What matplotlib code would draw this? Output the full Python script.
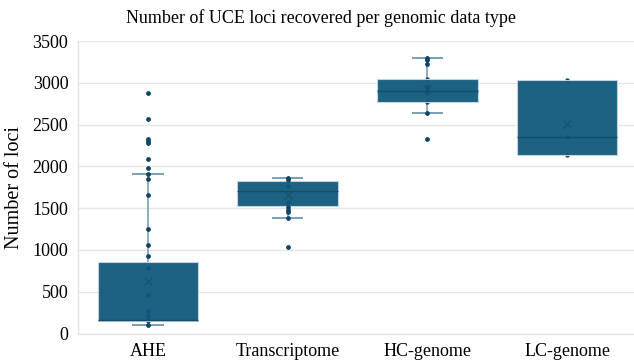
import matplotlib
matplotlib.use("Agg")
import matplotlib.pyplot as plt

categories = ["AHE", "Transcriptome", "HC-genome", "LC-genome"]

# box statistics
q1 = [144, 1528, 2770, 2131]
medians = [165, 1711, 2902, 2351]
q3 = [856, 1823, 3050, 3034]
whislo = [104, 1379, 2638, 2131]
whishi = [1907, 1859, 3298, 3034]
means = [624, 1663, 2922, 2502]

# individual samples
ahe = [2878, 2570, 2322, 2298, 2278, 2091, 1975, 1907, 1851, 1655, 1255,
       1064, 924, 784, 464, 272, 224, 184, 144, 104]
transcriptome = [1859, 1831, 1759, 1579, 1511, 1483, 1459, 1379, 1031]
hc_genome = [3298, 3274, 3222, 3050, 2962, 2930, 2880, 2770, 2638, 2331]
lc_genome = [3034, 2351, 2131]
points = [ahe, transcriptome, hc_genome, lc_genome]

yticks = [0, 500, 1000, 1500, 2000, 2500, 3000, 3500]

plt.rcParams["font.family"] = ["Liberation Serif", "DejaVu Serif"]

box_color = "#0f587a"
dot_color = "#0d4763"
whisker_color = "#7c9fb3"

fig = plt.figure(figsize=(6.34, 3.61), dpi=100)
ax = fig.add_axes([78 / 634, (361 - 333.5) / 361, 559 / 634, 292.5 / 361])

stats = []
for i, name in enumerate(categories):
    stats.append(dict(label=name, q1=q1[i], med=medians[i], q3=q3[i],
                      whislo=whislo[i], whishi=whishi[i], mean=means[i], fliers=[]))

bp = ax.bxp(stats, positions=range(len(categories)), widths=0.72, capwidths=0.21,
            patch_artist=True, showmeans=True, showfliers=False,
            boxprops=dict(facecolor=box_color, edgecolor="#c9d5dc", linewidth=0.8, alpha=0.94),
            medianprops=dict(color="#124f6c", linewidth=1.0),
            whiskerprops=dict(color=whisker_color, linewidth=1.2),
            capprops=dict(color=whisker_color, linewidth=1.4),
            meanprops=dict(marker="x", markeredgecolor="#174f69", markersize=6,
                           markeredgewidth=0.7))
for b in bp["boxes"]:
    b.set_zorder(3)
for m in bp["medians"] + bp["means"]:
    m.set_zorder(3.5)
for w in bp["whiskers"] + bp["caps"]:
    w.set_zorder(2)
# no caps where the whisker has zero length
for i in range(len(categories)):
    if whislo[i] == q1[i]:
        bp["caps"][2 * i].set_visible(False)
    if whishi[i] == q3[i]:
        bp["caps"][2 * i + 1].set_visible(False)

# all samples sit under the boxes, the ones outside the boxes are drawn on top
for i, vals in enumerate(points):
    ax.scatter([i] * len(vals), vals, s=10, color=dot_color, zorder=2.5, linewidths=0)
    outside = [v for v in vals if v > q3[i] or v < q1[i]]
    ax.scatter([i] * len(outside), outside, s=10, color=dot_color, zorder=5, linewidths=0)

ax.set_xlim(-0.5, 3.5)
ax.set_ylim(0, 3500)
ax.set_yticks(yticks)
ax.set_xticks(range(len(categories)))
ax.set_xticklabels(categories)
ax.tick_params(axis="both", length=0, labelsize=13)
ax.tick_params(axis="x", pad=7)
ax.tick_params(axis="y", pad=7)
ax.yaxis.grid(True, color="#e6e6e6", linewidth=1.0, zorder=0)
ax.set_axisbelow(True)
for side in ["top", "right"]:
    ax.spines[side].set_visible(False)
for side in ["left", "bottom"]:
    ax.spines[side].set_color("#e3e3e3")
    ax.spines[side].set_linewidth(1.0)

ax.set_ylabel("Number of loci", fontsize=14.5, labelpad=6)
fig.text(321 / 634, 1 - 18 / 361, "Number of UCE loci recovered per genomic data type",
         ha="center", va="center", fontsize=13)

fig.savefig("out.png", dpi=100)
